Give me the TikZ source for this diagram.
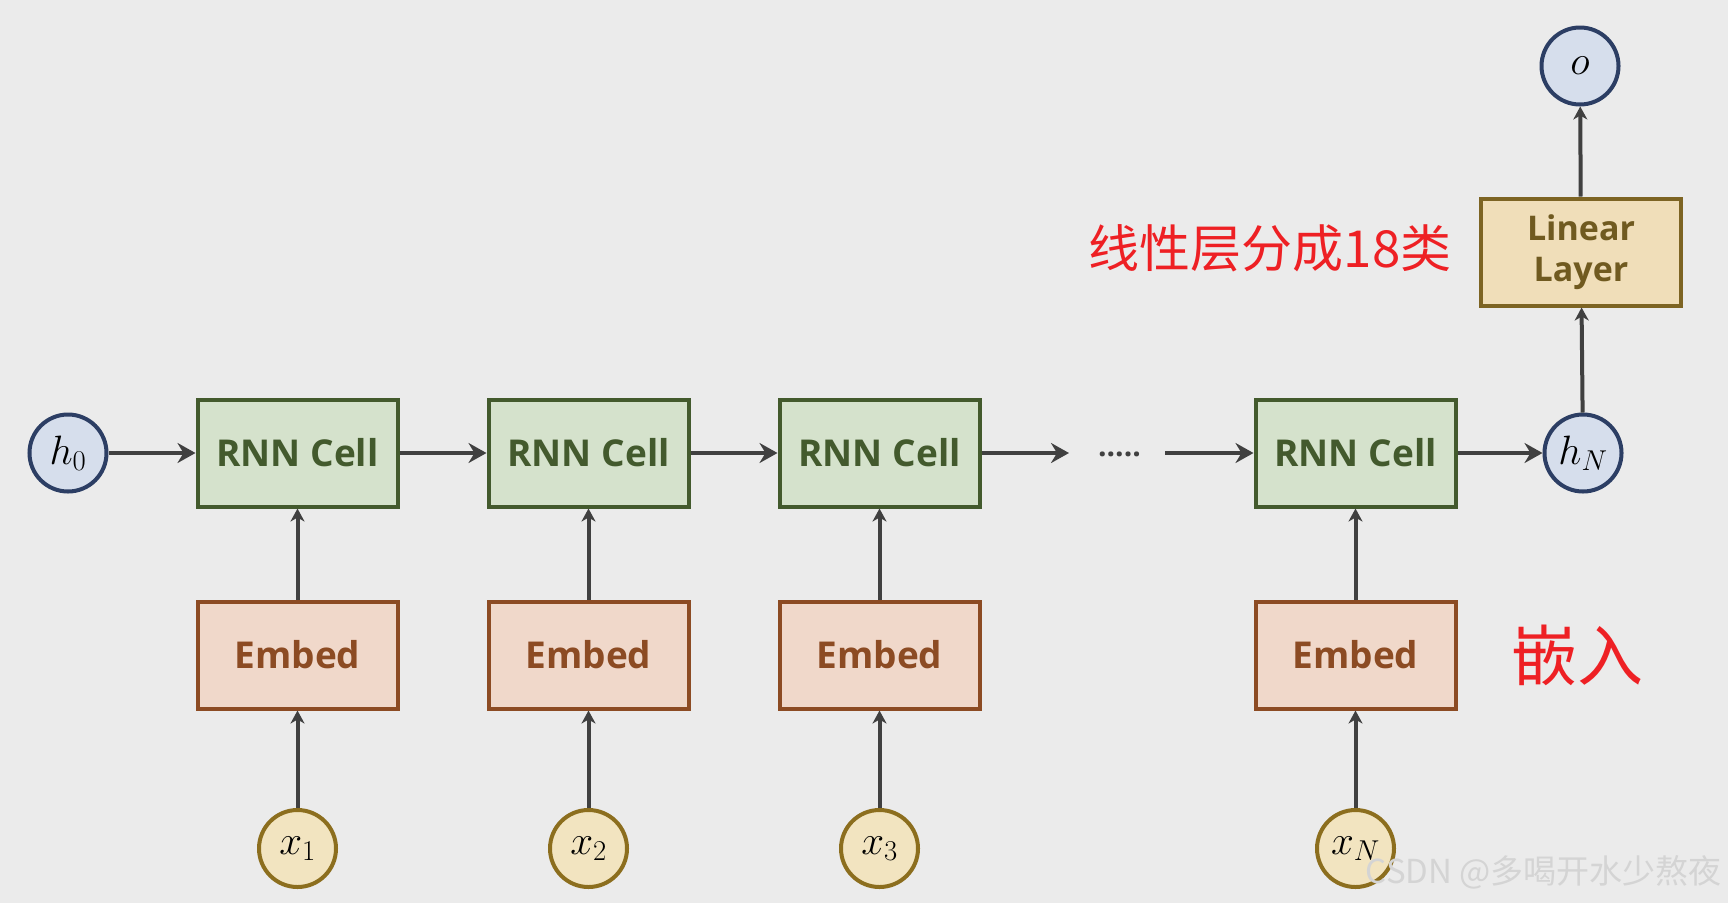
\RequirePackage{fix-cm}
\documentclass[tikz,border=0pt]{standalone}
\usepackage{fontspec}
\usetikzlibrary{arrows.meta}
\newfontfamily\boxfont{Open Sans}
\newfontfamily\cjk{Noto Sans CJK SC}

\definecolor{bgcolor}{RGB}{235,235,235}
\definecolor{hfill}{RGB}{214,222,236}
\definecolor{hline}{RGB}{44,62,100}
\definecolor{cellfill}{RGB}{213,226,204}
\definecolor{cellline}{RGB}{67,90,45}
\definecolor{embfill}{RGB}{240,216,202}
\definecolor{embline}{RGB}{140,75,35}
\definecolor{linfill}{RGB}{240,222,185}
\definecolor{linline}{RGB}{125,100,35}
\definecolor{xfill}{RGB}{242,228,192}
\definecolor{xline}{RGB}{140,110,30}
\definecolor{arrowcolor}{RGB}{64,64,64}
\definecolor{notered}{RGB}{238,32,36}
\definecolor{markgray}{RGB}{212,212,212}

\newlength{\du}
\setlength{\du}{1pt}

\tikzset{
  statecirc/.style={circle, draw=hline, fill=hfill, line width=4\du,
    minimum size=77\du, inner sep=0pt, font=\fontsize{41}{44}\selectfont},
  inputcirc/.style={statecirc, draw=xline, fill=xfill},
  cellbox/.style={draw=cellline, fill=cellfill, text=cellline, line width=4\du,
    minimum width=200\du, minimum height=107\du, inner sep=0pt,
    font=\boxfont\bfseries\fontsize{37}{40}\selectfont},
  embbox/.style={cellbox, draw=embline, fill=embfill, text=embline},
  linbox/.style={cellbox, draw=linline, fill=linfill, text=linline!90!black,
    align=center, font=\boxfont\bfseries\fontsize{34}{41}\selectfont},
  harrow/.style={draw=arrowcolor, line width=4\du,
    -{Stealth[length=18pt, width=20pt, inset=6pt]}},
  varrow/.style={draw=arrowcolor, line width=4\du,
    -{Stealth[length=13pt, width=14pt, inset=4pt]}}
}

\begin{document}
\begin{tikzpicture}
\pgftransformyscale{-1.000000}
\fill[bgcolor] (0\du,0\du) rectangle (1728\du,903\du);
\useasboundingbox (0\du,0\du) rectangle (1728\du,903\du);

% states
\node[statecirc] (h0) at (68\du,453\du) {$h_0$};
\node[statecirc] (hN) at (1583\du,453\du) {$h_N$};
\node[statecirc] (out) at (1580\du,66\du) {$o$};

% cells, embeddings, inputs
\node[cellbox] (cell1) at (297.5\du,453\du) {RNN Cell};
\node[cellbox] (cell2) at (588.5\du,453\du) {RNN Cell};
\node[cellbox] (cell3) at (879.5\du,453\du) {RNN Cell};
\node[cellbox] (cellN) at (1355.5\du,453\du) {RNN Cell};

\node[embbox] (emb1) at (297.5\du,655\du) {Embed};
\node[embbox] (emb2) at (588.5\du,655\du) {Embed};
\node[embbox] (emb3) at (879.5\du,655\du) {Embed};
\node[embbox] (embN) at (1355.5\du,655\du) {Embed};

\node[inputcirc] (x1) at (297.5\du,848.5\du) {$x_1$};
\node[inputcirc] (x2) at (588.5\du,848.5\du) {$x_2$};
\node[inputcirc] (x3) at (879.5\du,848.5\du) {$x_3$};
\node[inputcirc] (xN) at (1355.5\du,848.5\du) {$x_N$};

\node[linbox] (lin) at (1581\du,252\du) {Linear\\Layer};

% dots between cell3 and cellN
\node[anchor=base, inner sep=0pt, text=arrowcolor,
  font=\boxfont\bfseries\fontsize{30}{30}\selectfont] (dots) at (1119.5\du,456\du) {.....};
\coordinate (gapL) at (1069\du,453\du);
\coordinate (gapR) at (1165\du,453\du);

% connectors
\draw[harrow] (h0) -- (cell1);
\draw[harrow] (cell1) -- (cell2);
\draw[harrow] (cell2) -- (cell3);
\draw[harrow] (cell3) -- (gapL);
\draw[harrow] (gapR) -- (cellN);
\draw[harrow] (cellN) -- (hN);
\foreach \i in {1,2,3,N}{
  \draw[varrow] (x\i) -- (emb\i);
  \draw[varrow] (emb\i) -- (cell\i);
}
\draw[varrow] (hN) -- (lin);
\draw[varrow] (lin) -- (out);

% notes
\node[text=notered, inner sep=0pt, font=\cjk\fontsize{51}{51}\selectfont] (note) at (1270\du,248\du) {线性层分成18类};
\node[text=notered, inner sep=0pt, font=\cjk\fontsize{66}{66}\selectfont] (embnote) at (1577\du,655\du) {嵌入};
\node[text=markgray, anchor=east, inner sep=0pt, font=\cjk\fontsize{33}{33}\selectfont] (mark) at (1722\du,872\du) {CSDN @多喝开水少熬夜};
\end{tikzpicture}
\end{document}
